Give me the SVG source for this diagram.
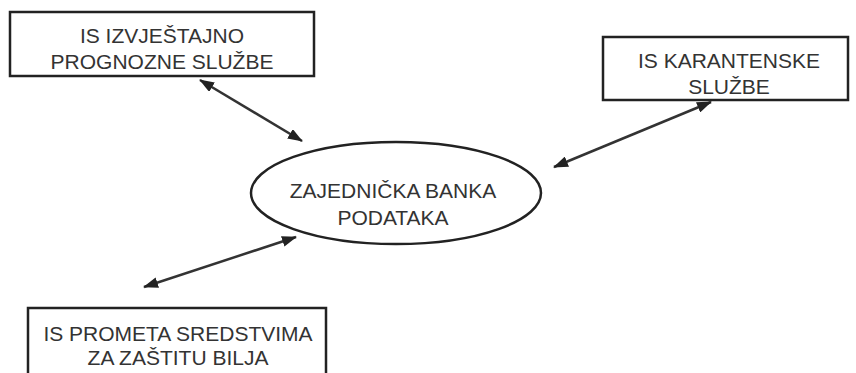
<svg xmlns="http://www.w3.org/2000/svg" width="856" height="373" viewBox="0 0 856 373">
<style>
.box{fill:#fff;stroke:#222;stroke-width:2.5}
.t{font-family:"Liberation Sans",Arial,sans-serif;font-size:21px;fill:#333;text-anchor:middle}
.c{stroke:#333;stroke-width:2.5;fill:none;marker-start:url(#ah);marker-end:url(#ah)}
</style>
<defs>
<marker id="ah" viewBox="0 0 15 11" refX="14" refY="5.5" markerWidth="15" markerHeight="11" markerUnits="userSpaceOnUse" orient="auto-start-reverse">
<path d="M0,0 L15,5.5 L0,11 Z" fill="#222"/>
</marker>
</defs>
<rect width="856" height="373" fill="#fff"/>
<g id="connectors">
<line class="c" x1="200" y1="80" x2="302" y2="141"/>
<line class="c" x1="711" y1="102" x2="554" y2="167"/>
<line class="c" x1="296" y1="237" x2="144" y2="287"/>
</g>
<g id="is-izvjestajno">
<rect class="box" x="10" y="12" width="304" height="64"/>
<text class="t" x="162" y="43">IS IZVJEŠTAJNO</text>
<text class="t" x="162" y="69">PROGNOZNE SLUŽBE</text>
</g>
<g id="is-karantenske">
<rect class="box" x="603" y="37" width="245" height="63"/>
<text class="t" x="729" y="68">IS KARANTENSKE</text>
<text class="t" x="729" y="94">SLUŽBE</text>
</g>
<g id="zajednicka-banka">
<ellipse class="box" cx="396" cy="193" rx="145" ry="51"/>
<text class="t" x="393" y="198">ZAJEDNIČKA BANKA</text>
<text class="t" x="393" y="225">PODATAKA</text>
</g>
<g id="is-prometa">
<rect class="box" x="28" y="308" width="298" height="80"/>
<text class="t" x="178" y="341">IS PROMETA SREDSTVIMA</text>
<text class="t" x="178" y="365">ZA ZAŠTITU BILJA</text>
</g>
</svg>
